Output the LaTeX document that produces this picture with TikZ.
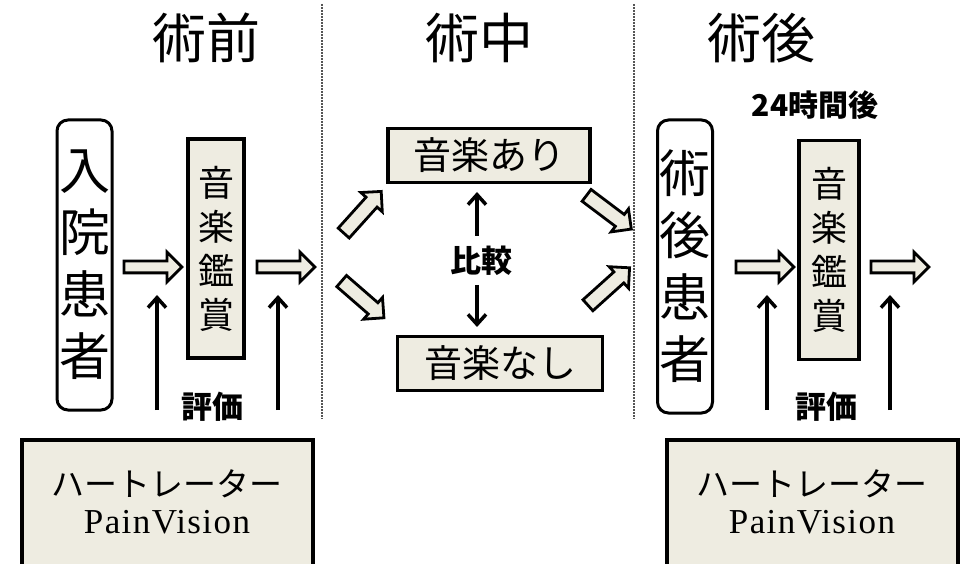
\documentclass[tikz,border=0pt]{standalone}
\usepackage{fontspec}
\setmainfont{Liberation Serif}
\newfontfamily\cjk{Noto Sans CJK JP}
\usetikzlibrary{shapes.arrows,arrows.meta}
\definecolor{beige}{HTML}{EEECE1}
\definecolor{dashgray}{HTML}{555555}
\begin{document}
\begin{tikzpicture}[x=1pt,y=-1pt,
  title/.style={font=\cjk\fontsize{54}{54}\selectfont, inner sep=0pt},
  label/.style={font=\cjk\bfseries\fontsize{31}{31}\selectfont, inner sep=0pt},
  patient/.style={draw=black, line width=3pt, rounded corners=11pt, fill=white,
    minimum width=55pt, minimum height=290pt, inner sep=0pt, align=center,
    font=\cjk\fontsize{51}{62}\selectfont},
  listen/.style={draw=black, line width=3.5pt, fill=beige,
    minimum width=56pt, minimum height=219pt, inner sep=0pt, align=center,
    font=\cjk\fontsize{36}{44}\selectfont},
  musicbox/.style={draw=black, line width=3.5pt, fill=beige,
    minimum height=54pt, inner sep=0pt, font=\cjk\fontsize{38}{38}\selectfont},
  devicebox/.style={draw=black, line width=4pt, fill=beige,
    minimum width=291pt, minimum height=128pt, inner sep=0pt, align=center},
  hblock/.style={single arrow, draw=black, line width=2.8pt, fill=beige,
    inner xsep=0pt, inner ysep=4.5pt, minimum height=58pt,
    single arrow head extend=9pt, single arrow tip angle=90},
  dblock/.style={single arrow, draw=black, line width=2.8pt, fill=beige,
    inner xsep=0pt, inner ysep=6pt, minimum height=56pt,
    single arrow head extend=7pt, single arrow tip angle=90},
  evalarrow/.style={line width=3.5pt, -{Straight Barb[length=10pt,width=18pt,line width=3.5pt]}},
  sep/.style={draw=dashgray, line width=2pt, dash pattern=on 2pt off 1pt}
]
\useasboundingbox (0,0) rectangle (962,564);

% separators
\coordinate (s1t) at (322,4);
\coordinate (s1b) at (322,419);
\coordinate (s2t) at (634,4);
\coordinate (s2b) at (634,419);
\draw[sep] (s1t) -- (s1b);
\draw[sep] (s2t) -- (s2b);

% titles
\node[title] (t1) at (206,38) {術前};
\node[title] (t2) at (479,38) {術中};
\node[title] (t3) at (761,38) {術後};

% ---------- pre-op ----------
\node[patient] (p1) at (84.5,265) {入\\院\\患\\者};
\node[listen] (l1) at (216,248.5) {音\\楽\\鑑\\賞};
\node[hblock] (b1) at (150,267) {};
\node[hblock] (b2) at (283,267) {};
\coordinate (e1s) at (157,410);
\coordinate (e1e) at (157,295);
\coordinate (e2s) at (278,410);
\coordinate (e2e) at (278,295);
\draw[evalarrow] (e1s) -- (e1e);
\draw[evalarrow] (e2s) -- (e2e);
\node[label] (ev1) at (212,407) {評価};
\node[devicebox] (d1) at (167,504) {};
\node[font=\cjk\fontsize{33}{33}\selectfont, inner sep=0pt] (k1) at (167,484) {ハートレーター};
\node[font=\fontsize{35}{35}\selectfont\addfontfeatures{LetterSpace=4}, inner sep=0pt] (pv1) at (167,522) {PainVision};

% ---------- intra-op ----------
\node[musicbox, minimum width=202pt] (ari) at (489,155.5) {音楽あり};
\node[musicbox, minimum width=205pt] (nashi) at (500,363.5) {音楽なし};
\node[label] (cmp) at (481,261) {比較};
\coordinate (c1s) at (477,236);
\coordinate (c1e) at (477,192);
\coordinate (c2s) at (477,285);
\coordinate (c2e) at (477,327);
\draw[evalarrow] (c1s) -- (c1e);
\draw[evalarrow] (c2s) -- (c2e);
\node[dblock, rotate=48] (g1) at (360,215) {};
\node[dblock, rotate=-41] (g2) at (360,297) {};
\node[dblock, rotate=-37] (g3) at (606,210) {};
\node[dblock, rotate=42] (g4) at (606,289) {};

% ---------- post-op ----------
\node[label, font=\cjk\bfseries\fontsize{30}{30}\selectfont] (h24) at (815,105) {24時間後};
\node[patient, minimum height=293pt] (p2) at (685,266.5) {術\\後\\患\\者};
\node[listen, minimum width=60pt] (l2) at (829,250) {音\\楽\\鑑\\賞};
\node[hblock] (b3) at (762,267) {};
\node[hblock] (b4) at (897,267) {};
\coordinate (e3s) at (767,410);
\coordinate (e3e) at (767,295);
\coordinate (e4s) at (890,410);
\coordinate (e4e) at (890,295);
\draw[evalarrow] (e3s) -- (e3e);
\draw[evalarrow] (e4s) -- (e4e);
\node[label] (ev2) at (826,407) {評価};
\node[devicebox] (d2) at (812,504) {};
\node[font=\cjk\fontsize{33}{33}\selectfont, inner sep=0pt] (k2) at (812,484) {ハートレーター};
\node[font=\fontsize{35}{35}\selectfont\addfontfeatures{LetterSpace=4}, inner sep=0pt] (pv2) at (812,522) {PainVision};
\end{tikzpicture}
\end{document}
